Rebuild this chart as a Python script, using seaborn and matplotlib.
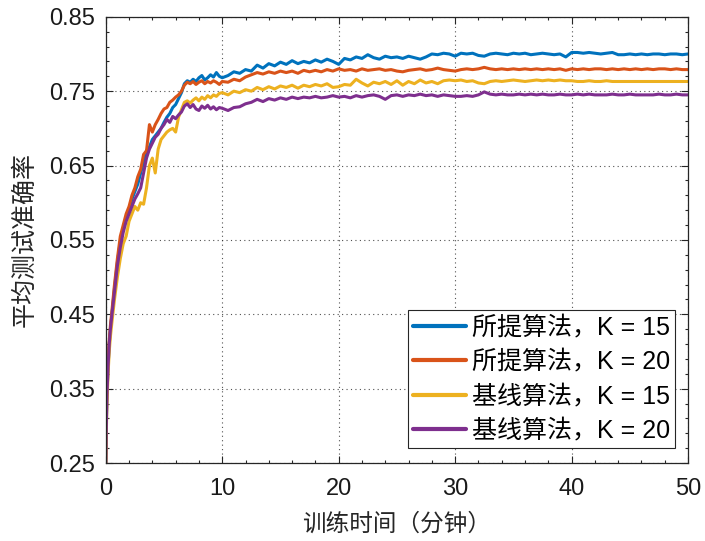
import numpy as np
import pandas as pd
import matplotlib
matplotlib.use("Agg")
import matplotlib.pyplot as plt
from matplotlib.ticker import AutoMinorLocator, MultipleLocator
from matplotlib.lines import Line2D
import seaborn as sns

# ---------------- data ----------------
t_start = [0, 0.05, 0.1, 0.2, 0.3, 0.4]
t_mid = list(np.arange(0.5, 10.01, 0.25))
t_late = list(np.arange(10.5, 50.01, 0.5))
time_min = t_start + t_mid + t_late

labels = ["所提算法，K = 15", "所提算法，K = 20", "基线算法，K = 15", "基线算法，K = 20"]
colors = ["#0072BD", "#D95319", "#EDB120", "#7E2F8E"]
y_ticks = [0.25, 0.35, 0.45, 0.55, 0.65, 0.75, 0.85]
y_tick_labels = ["0.25", "0.35", "0.45", "0.55", "0.65", "0.75", "0.85"]

prop_k15 = ([0.25, 0.30, 0.34, 0.38, 0.41, 0.43] +
    [0.445, 0.485, 0.52, 0.548, 0.565, 0.58, 0.59, 0.605, 0.615, 0.625, 0.64, 0.655, 0.67, 0.675,
     0.685, 0.69, 0.695, 0.70, 0.708, 0.715, 0.72, 0.728, 0.732, 0.74, 0.748, 0.76, 0.764, 0.762,
     0.766, 0.763, 0.768, 0.771, 0.765, 0.768, 0.772, 0.769, 0.775, 0.77, 0.768] +
    [0.771, 0.776, 0.774, 0.779, 0.777, 0.785, 0.781, 0.787, 0.784, 0.789, 0.786, 0.791, 0.787, 0.790,
     0.788, 0.792, 0.789, 0.793, 0.79, 0.786, 0.794, 0.792, 0.796, 0.794, 0.799, 0.795, 0.793, 0.797,
     0.795, 0.796, 0.794, 0.797, 0.795, 0.793, 0.796, 0.8, 0.799, 0.801, 0.8, 0.797, 0.801, 0.8,
     0.801, 0.798, 0.797, 0.8, 0.801, 0.8, 0.799, 0.801, 0.8, 0.801, 0.799, 0.8, 0.801, 0.8, 0.799,
     0.8, 0.796, 0.802, 0.802, 0.801, 0.802, 0.801, 0.8, 0.801, 0.802, 0.799, 0.799, 0.8, 0.799, 0.8,
     0.799, 0.8, 0.8, 0.799, 0.8, 0.8, 0.799, 0.8])

prop_k20 = ([0.25, 0.31, 0.35, 0.39, 0.415, 0.435] +
    [0.45, 0.49, 0.525, 0.555, 0.57, 0.585, 0.595, 0.61, 0.62, 0.635, 0.645, 0.665, 0.67, 0.705,
     0.695, 0.705, 0.712, 0.72, 0.726, 0.728, 0.735, 0.738, 0.742, 0.745, 0.75, 0.758, 0.762, 0.76,
     0.763, 0.759, 0.762, 0.764, 0.76, 0.763, 0.761, 0.764, 0.762, 0.759, 0.763] +
    [0.762, 0.766, 0.764, 0.769, 0.772, 0.775, 0.773, 0.776, 0.774, 0.777, 0.775, 0.777, 0.774, 0.778,
     0.776, 0.778, 0.776, 0.779, 0.777, 0.78, 0.778, 0.779, 0.777, 0.78, 0.778, 0.779, 0.78, 0.778,
     0.779, 0.777, 0.776, 0.778, 0.779, 0.78, 0.778, 0.779, 0.781, 0.779, 0.778, 0.777, 0.779, 0.78,
     0.779, 0.78, 0.782, 0.78, 0.779, 0.78, 0.779, 0.78, 0.779, 0.78, 0.779, 0.78, 0.779, 0.78, 0.779,
     0.78, 0.778, 0.78, 0.779, 0.78, 0.779, 0.78, 0.78, 0.779, 0.78, 0.779, 0.78, 0.779, 0.78, 0.779,
     0.78, 0.779, 0.78, 0.78, 0.779, 0.78, 0.779, 0.779])

base_k15 = ([0.25, 0.29, 0.33, 0.37, 0.40, 0.42] +
    [0.435, 0.47, 0.50, 0.525, 0.545, 0.555, 0.575, 0.585, 0.595, 0.59, 0.60, 0.598, 0.62, 0.65,
     0.66, 0.64, 0.672, 0.685, 0.69, 0.695, 0.698, 0.70, 0.695, 0.715, 0.725, 0.735, 0.737, 0.734,
     0.738, 0.741, 0.737, 0.742, 0.739, 0.744, 0.741, 0.745, 0.743, 0.747, 0.748] +
    [0.745, 0.75, 0.748, 0.752, 0.75, 0.755, 0.752, 0.756, 0.753, 0.757, 0.755, 0.758, 0.754, 0.758,
     0.756, 0.759, 0.757, 0.76, 0.755, 0.756, 0.759, 0.758, 0.766, 0.761, 0.757, 0.762, 0.76, 0.763,
     0.759, 0.764, 0.758, 0.763, 0.76, 0.765, 0.761, 0.763, 0.76, 0.764, 0.765, 0.764, 0.765, 0.763,
     0.764, 0.761, 0.76, 0.763, 0.764, 0.763, 0.764, 0.765, 0.764, 0.763, 0.764, 0.765, 0.764, 0.765,
     0.764, 0.765, 0.764, 0.764, 0.763, 0.763, 0.764, 0.763, 0.763, 0.764, 0.763, 0.763, 0.763, 0.763,
     0.763, 0.763, 0.763, 0.763, 0.763, 0.763, 0.763, 0.763, 0.763, 0.763])

base_k20 = ([0.25, 0.30, 0.34, 0.38, 0.41, 0.43] +
    [0.445, 0.48, 0.515, 0.54, 0.56, 0.575, 0.585, 0.595, 0.605, 0.612, 0.62, 0.64, 0.66, 0.672,
     0.68, 0.688, 0.692, 0.70, 0.705, 0.712, 0.708, 0.716, 0.713, 0.718, 0.722, 0.73, 0.733, 0.728,
     0.732, 0.726, 0.724, 0.73, 0.727, 0.731, 0.726, 0.729, 0.725, 0.728, 0.727] +
    [0.724, 0.728, 0.729, 0.733, 0.735, 0.739, 0.736, 0.74, 0.738, 0.741, 0.739, 0.742, 0.74, 0.742,
     0.741, 0.743, 0.741, 0.742, 0.744, 0.742, 0.743, 0.741, 0.744, 0.742, 0.744, 0.745, 0.743, 0.739,
     0.744, 0.745, 0.743, 0.745, 0.744, 0.746, 0.744, 0.745, 0.743, 0.745, 0.744, 0.743, 0.743, 0.744,
     0.743, 0.745, 0.749, 0.746, 0.745, 0.746, 0.745, 0.745, 0.746, 0.745, 0.746, 0.745, 0.746, 0.745,
     0.745, 0.746, 0.745, 0.745, 0.746, 0.745, 0.746, 0.745, 0.745, 0.745, 0.746, 0.745, 0.745, 0.746,
     0.745, 0.745, 0.745, 0.745, 0.746, 0.745, 0.745, 0.746, 0.745, 0.745])

series = [prop_k15, prop_k20, base_k15, base_k20]

rows = []
for lab, vals in zip(labels, series):
    for tt, v in zip(time_min, vals):
        rows.append({"t": tt, "acc": v, "alg": lab})
df = pd.DataFrame(rows)

# ---------------- plot ----------------
sns.set_style("ticks")
plt.rcParams["font.family"] = ["Liberation Sans", "Noto Sans CJK SC", "DejaVu Sans"]

fig = plt.figure(figsize=(7.05, 5.41), dpi=100)
ax = fig.add_axes([0.150, 0.144, 0.826, 0.825])

sns.lineplot(data=df, x="t", y="acc", hue="alg", hue_order=labels,
             palette=colors, linewidth=2.2, ax=ax, legend=False, sort=False)

ax.set_xlim(0, 50)
ax.set_ylim(0.25, 0.85)
ax.xaxis.set_major_locator(MultipleLocator(10))
ax.set_yticks(y_ticks)
ax.set_yticklabels(y_tick_labels)
ax.xaxis.set_minor_locator(AutoMinorLocator(5))
ax.yaxis.set_minor_locator(AutoMinorLocator(5))
ax.tick_params(which="both", top=True, right=True, direction="in", width=0.8, color="#262626")
ax.tick_params(which="major", length=5, labelsize=17, labelcolor="#1a1a1a")
ax.tick_params(axis="y", which="major", pad=8)
ax.tick_params(axis="x", which="major", pad=11)
ax.tick_params(which="minor", length=2.5)
for s in ax.spines.values():
    s.set_visible(True)
    s.set_linewidth(0.9)
    s.set_color("#262626")

ax.grid(True, which="major", linestyle=(0, (1, 3)), color="#262626", linewidth=0.8, alpha=0.8)

ax.set_xlabel("训练时间（分钟）", fontsize=17, family=["Noto Sans CJK SC"], color="#262626", labelpad=9)
ax.set_ylabel("平均测试准确率", fontsize=18, family=["Noto Sans CJK SC"], color="#262626", labelpad=8)

handles = [Line2D([0], [0], color=c, linewidth=3) for c in colors]
leg = ax.legend(handles, labels, loc="lower right", bbox_to_anchor=(0.978, 0.034),
                fontsize=18, frameon=True, fancybox=False, framealpha=1,
                edgecolor="#262626", handlelength=2.1, handletextpad=0.25,
                borderpad=0.2, labelspacing=0.42, borderaxespad=0)
leg.get_frame().set_linewidth(0.8)
for txt in leg.get_texts():
    txt.set_color("black")

fig.savefig("out.png", dpi=100)
